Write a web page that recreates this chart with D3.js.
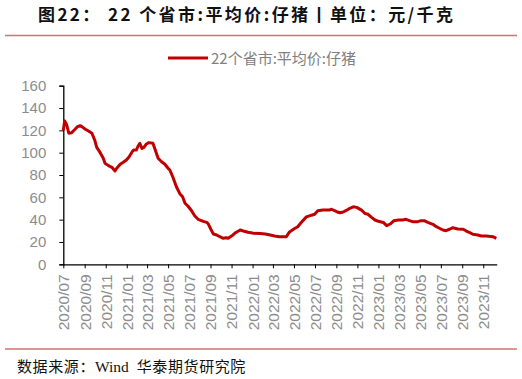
<!DOCTYPE html>
<head>
    <meta charset="utf-8">
    <title>22个省市:平均价:仔猪</title>
    <script src="https://d3js.org/d3.v7.min.js"></script>
    <style>
        body { margin: 0; background: #fff; }
        svg { display: block; }
    </style>
</head>
<body>
    <div id="container"></div>
    <script>
        //------------------------DATA------------------------//
        var dates = ["2020-07-01", "2020-07-05", "2020-07-11", "2020-07-17", "2020-07-25", "2020-08-04", "2020-08-11",
            "2020-08-19", "2020-08-24", "2020-09-03", "2020-09-12", "2020-09-22", "2020-09-30", "2020-10-06",
            "2020-10-16", "2020-10-25", "2020-10-30", "2020-11-09", "2020-11-19", "2020-11-28", "2020-12-03",
            "2020-12-13", "2020-12-22", "2020-12-31", "2021-01-07", "2021-01-17", "2021-01-21", "2021-01-29",
            "2021-02-03", "2021-02-08", "2021-02-14", "2021-02-20", "2021-02-27", "2021-03-06", "2021-03-18",
            "2021-03-23", "2021-04-02", "2021-04-12", "2021-04-21", "2021-05-01", "2021-05-06", "2021-05-15",
            "2021-05-25", "2021-06-04", "2021-06-12", "2021-06-19", "2021-06-28", "2021-07-08", "2021-07-17",
            "2021-07-27", "2021-08-11", "2021-08-21", "2021-08-25", "2021-09-02", "2021-09-09", "2021-09-19",
            "2021-09-28", "2021-10-08", "2021-10-16", "2021-10-22", "2021-11-02", "2021-11-11", "2021-11-26",
            "2021-12-05", "2021-12-19", "2022-01-04", "2022-01-23", "2022-02-07", "2022-02-21", "2022-03-06",
            "2022-03-20", "2022-04-09", "2022-04-18", "2022-05-03", "2022-05-12", "2022-05-22", "2022-06-06",
            "2022-06-21", "2022-06-30", "2022-07-09", "2022-07-24", "2022-08-13", "2022-08-18", "2022-09-02",
            "2022-09-11", "2022-09-21", "2022-10-01", "2022-10-10", "2022-10-20", "2022-10-30", "2022-11-13",
            "2022-11-23", "2022-12-02", "2022-12-12", "2022-12-22", "2023-01-01", "2023-01-15", "2023-01-25",
            "2023-02-04", "2023-02-15", "2023-02-28", "2023-03-12", "2023-03-22", "2023-04-01", "2023-04-10",
            "2023-04-25", "2023-05-05", "2023-05-14", "2023-05-24", "2023-06-08", "2023-06-18", "2023-06-27",
            "2023-07-07", "2023-07-16", "2023-07-26", "2023-08-05", "2023-08-19", "2023-09-04", "2023-09-13",
            "2023-09-23", "2023-10-02", "2023-10-16", "2023-10-26", "2023-11-10", "2023-11-29", "2023-12-09"]

        var prices = [120, 128.5, 124.8, 117.4, 117.9, 121, 123.3,
            124.2, 123.3, 121, 119.4, 117.4, 111.4, 104.8,
            100, 95, 90.5, 88.4, 86.9, 83.6, 86,
            89.6, 91.4, 93.5, 95.9, 100.9, 102.4, 102.4,
            106, 108.4, 103.9, 104.8, 107.8, 109, 108.4,
            103.9, 95, 91.9, 89.9, 86, 84.5, 78,
            69.5, 63.3, 60.6, 54.7, 52, 48, 43.5,
            40.3, 38.5, 37.5, 36.5, 31.4, 27.2, 26.3,
            24.7, 23.3, 23.8, 23.3, 25.5, 28, 30.7,
            29.8, 28.7, 27.8, 27.5, 27.2, 26.3, 25.4,
            24.7, 24.7, 29, 32, 33.7, 37.5, 42.5,
            44, 44.8, 48, 48.7, 48.7, 49.3, 47.1,
            46.2, 46.8, 48.5, 50.2, 51.5, 51, 48.5,
            45.5, 44.8, 42, 39.7, 38.5, 37.5, 34.6,
            36.1, 39.1, 39.7, 39.7, 40.3, 39.1, 38.2,
            38.2, 39.1, 39.1, 37.6, 35.8, 33.7, 32.3,
            30.7, 30.1, 31.4, 32.8, 31.6, 31.4, 29.8,
            28.3, 26.9, 26.3, 25.4, 25.4, 24.7, 23.3]

        var yTicks = [0, 20, 40, 60, 80, 100, 120, 140, 160]
        var seriesName = "22个省市:平均价:仔猪"
        var titleText = "图22：   22 个省市:平均价:仔猪丨单位：元/千克"
        var sourceParts = ["数据来源：", "Wind", "  华泰期货研究院"]

        //------------------------SETUP------------------------//
        var W = 522, H = 379
        var margin = { top: 85.7, right: 25.3, bottom: 114.7, left: 63.3 }
        var width = W - margin.left - margin.right,
            height = H - margin.top - margin.bottom

        var parse = d3.timeParse("%Y-%m-%d")
        var data = dates.map(function (d, i) { return { date: parse(d), value: prices[i] } })

        var xScale = d3.scaleTime()
            .domain([parse("2020-07-01"), parse("2023-12-10")])
            .range([0, width])
        var yScale = d3.scaleLinear().domain([0, 160]).range([height, 0])

        var svg = d3.select("#container").append("svg")
            .attr("width", W).attr("height", H)

        var cjk = "'Noto Sans CJK SC', 'Liberation Sans', sans-serif"

        //------------------------TITLE------------------------//
        svg.append("text")
            .attr("x", 38).attr("y", 21)
            .attr("font-family", cjk)
            .attr("font-weight", "bold")
            .attr("font-size", 17)
            .attr("fill", "#111")
            .attr("textLength", 415)
            .text(titleText)

        svg.append("line")
            .attr("x1", 5).attr("x2", 517).attr("y1", 35.5).attr("y2", 35.5)
            .attr("stroke", "#d27272").attr("stroke-width", 1.6)

        svg.append("line")
            .attr("x1", 5).attr("x2", 517).attr("y1", 349).attr("y2", 349)
            .attr("stroke", "#d27272").attr("stroke-width", 1.6)

        var src = svg.append("text")
            .attr("x", 17).attr("y", 372)
            .attr("font-size", 15)
            .attr("fill", "#111")
        src.append("tspan").attr("font-family", cjk).attr("letter-spacing", 0.6).text(sourceParts[0])
        src.append("tspan").attr("font-family", "'Liberation Serif', serif").attr("font-size", 15.5).text(sourceParts[1])
        src.append("tspan").attr("font-family", cjk).attr("letter-spacing", 0.6).attr("xml:space", "preserve").text(sourceParts[2])

        //------------------------LEGEND------------------------//
        svg.append("line")
            .attr("x1", 168).attr("x2", 208).attr("y1", 58).attr("y2", 58)
            .attr("stroke", "#c00000").attr("stroke-width", 3)
        svg.append("text")
            .attr("x", 211).attr("y", 63.5)
            .attr("font-family", cjk)
            .attr("font-size", 15)
            .attr("fill", "#808080")
            .text(seriesName)

        //------------------------AXES------------------------//
        var g = svg.append("g")
            .attr("transform", "translate(" + margin.left + "," + margin.top + ")")

        var yAxis = d3.axisLeft(yScale).tickValues(yTicks).tickSize(4).tickPadding(13)
        var xAxis = d3.axisBottom(xScale)
            .ticks(d3.timeMonth.every(2))
            .tickFormat(d3.timeFormat("%Y/%m"))
            .tickSize(4)
            .tickSizeOuter(0)

        var gy = g.append("g").call(yAxis)
        gy.select(".domain").attr("stroke", "#000").attr("stroke-width", 1.3)
        gy.selectAll(".tick line").attr("stroke", "#000")
        gy.selectAll(".tick text")
            .attr("font-family", "'Liberation Sans', Arial, sans-serif")
            .attr("font-size", 15)
            .attr("fill", "#8c8c8c")

        var gx = g.append("g")
            .attr("transform", "translate(0," + height + ")")
            .call(xAxis)
        gx.select(".domain").attr("stroke", "#000").attr("stroke-width", 1.3)
        gx.selectAll(".tick line").attr("stroke", "#000")
        gx.selectAll(".tick text")
            .attr("font-family", "'Liberation Sans', Arial, sans-serif")
            .attr("font-size", 15.5)
            .attr("fill", "#8c8c8c")
            .attr("transform", "rotate(-90)")
            .attr("text-anchor", "end")
            .attr("x", -10)
            .attr("y", 0)
            .attr("dy", "0.35em")

        //------------------------LINE------------------------//
        var line = d3.line()
            .x(function (d) { return xScale(d.date) })
            .y(function (d) { return yScale(d.value) })

        g.append("path")
            .datum(data)
            .attr("fill", "none")
            .attr("stroke", "#c00000")
            .attr("stroke-width", 3)
            .attr("stroke-linejoin", "round")
            .attr("d", line)
    </script>
</body>
